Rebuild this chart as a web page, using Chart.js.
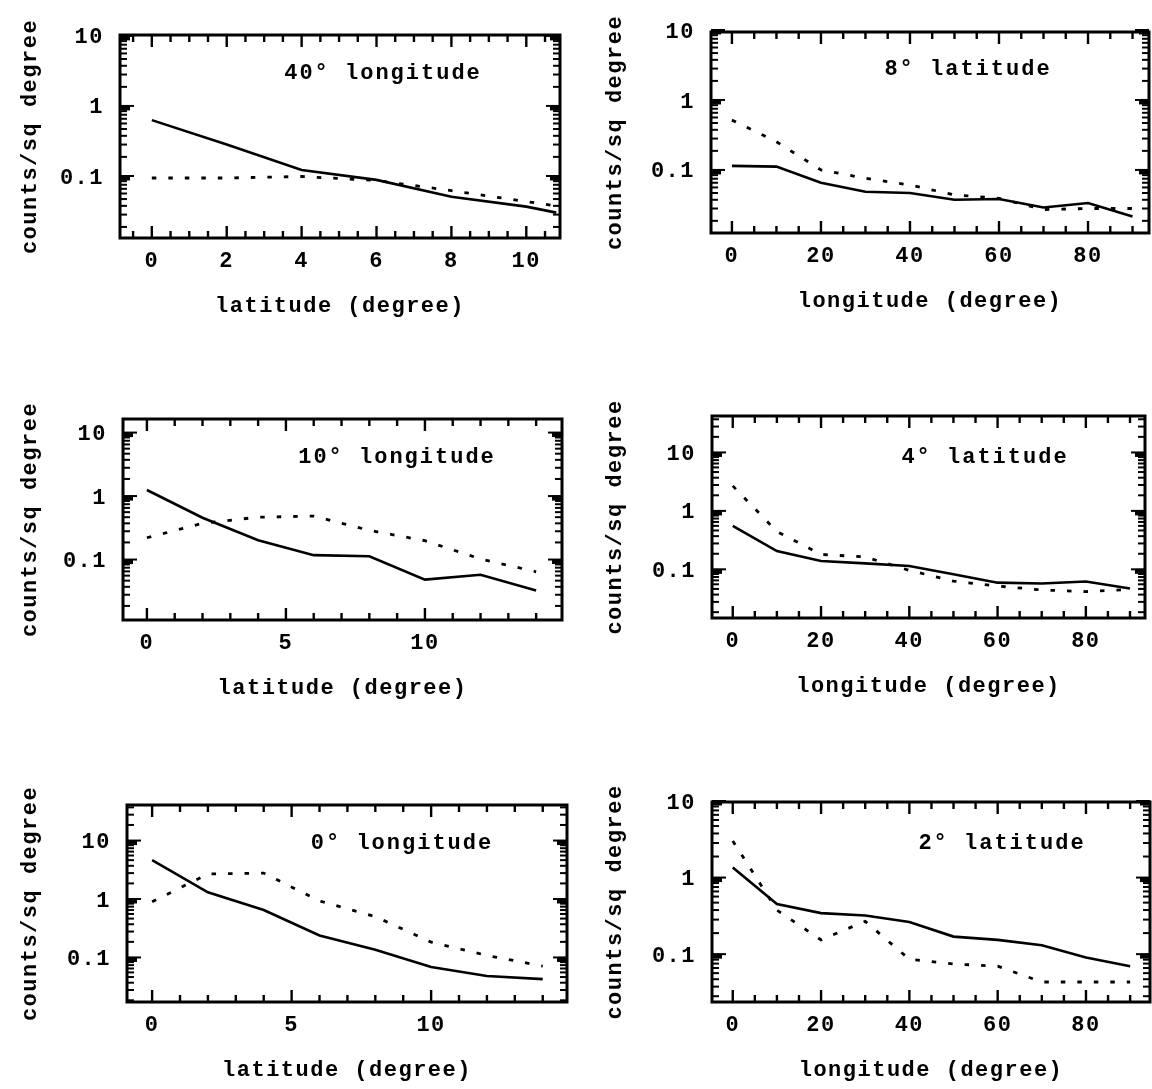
<!DOCTYPE html>
<html><head><meta charset="utf-8">
<script src="https://cdn.jsdelivr.net/npm/chart.js@4.4.0/dist/chart.umd.min.js"></script>
<style>
html,body{margin:0;padding:0;background:#fff;}
body{width:1152px;height:1089px;position:relative;overflow:hidden;}
canvas{position:absolute;display:block;}
</style></head><body>
<canvas id="c0"></canvas><canvas id="c1"></canvas><canvas id="c2"></canvas>
<canvas id="c3"></canvas><canvas id="c4"></canvas><canvas id="c5"></canvas>
<script>
// ---------------- DATA ----------------
const panelTitles = ["40\u00B0 longitude", "8\u00B0 latitude", "10\u00B0 longitude", "4\u00B0 latitude", "0\u00B0 longitude", "2\u00B0 latitude"];
const xTitleLat = "latitude (degree)";
const xTitleLon = "longitude (degree)";
const yTitle = "counts/sq degree";
const yTickValues = [0.1, 1, 10];
const xTicksLat10 = [0, 2, 4, 6, 8, 10];
const xTicksLat14 = [0, 5, 10];
const xTicksLon = [0, 20, 40, 60, 80];

// 40 deg longitude (x = latitude)
const lon40Lat    = [0, 2, 4, 6, 8, 10, 10.8];
const lon40Solid  = [0.67, 0.30, 0.13, 0.094, 0.054, 0.039, 0.032];
const lon40Dotted = [0.10, 0.10, 0.105, 0.092, 0.066, 0.046, 0.040];

// latitude cuts (x = longitude)
const lonX = [0, 10, 20, 30, 40, 50, 60, 70, 80, 90];
const lat8Solid  = [0.122, 0.119, 0.070, 0.052, 0.050, 0.040, 0.041, 0.031, 0.036, 0.023];
const lat8Dotted = [0.55, 0.27, 0.107, 0.081, 0.065, 0.047, 0.042, 0.029, 0.030, 0.030];
const lat4Solid  = [0.60, 0.222, 0.150, 0.137, 0.123, 0.089, 0.064, 0.062, 0.067, 0.051];
const lat4Dotted = [2.9, 0.48, 0.195, 0.176, 0.104, 0.068, 0.056, 0.048, 0.045, 0.049];
const lat2Solid  = [1.44, 0.48, 0.365, 0.34, 0.279, 0.18, 0.163, 0.139, 0.096, 0.074];
const lat2Dotted = [3.2, 0.40, 0.163, 0.285, 0.091, 0.079, 0.074, 0.046, 0.046, 0.046];

// longitude cuts (x = latitude)
const latX = [0, 2, 4, 6, 8, 10, 12, 14];
const lon10Solid  = [1.34, 0.49, 0.216, 0.126, 0.121, 0.052, 0.062, 0.035];
const lon10Dotted = [0.237, 0.40, 0.50, 0.52, 0.31, 0.213, 0.110, 0.069];
const lon0Solid   = [5.0, 1.41, 0.70, 0.257, 0.146, 0.074, 0.052, 0.046];
const lon0Dotted  = [0.97, 2.9, 3.0, 1.0, 0.54, 0.198, 0.117, 0.077];

// ---------------- LAYOUT / STYLE ----------------
const FSIZE = 22;
const FONT = {family: "'Liberation Mono', 'DejaVu Sans Mono', monospace", size: FSIZE, weight: 'bold', lineHeight: 1.2};
const LH = FSIZE * 1.2;

const panels = [
  {xs: lon40Lat, solid: lon40Solid, dotted: lon40Dotted, xTicks: xTicksLat10, xTitle: xTitleLat,
   xMin: -0.85, xMax: 10.9, yMin: 0.0139, yMax: 11.0, xMinor: 0.5, xMajor: 2,
   canvas: {x: 0, y: 0, w: 576, h: 340}, area: {l: 120, t: 35, r: 560, b: 238}, titleCx: 383, titleCy: 73},
  {xs: lonX, solid: lat8Solid, dotted: lat8Dotted, xTicks: xTicksLon, xTitle: xTitleLon,
   xMin: -4.7, xMax: 93.7, yMin: 0.0134, yMax: 10.0, xMinor: 5, xMajor: 20,
   canvas: {x: 576, y: 0, w: 576, h: 340}, area: {l: 711, t: 32, r: 1149, b: 233}, titleCx: 968, titleCy: 69},
  {xs: latX, solid: lon10Solid, dotted: lon10Dotted, xTicks: xTicksLat14, xTitle: xTitleLat,
   xMin: -0.86, xMax: 14.93, yMin: 0.0120, yMax: 17.6, xMinor: 1, xMajor: 5,
   canvas: {x: 0, y: 370, w: 576, h: 350}, area: {l: 123, t: 419, r: 562, b: 620}, titleCx: 397, titleCy: 457},
  {xs: lonX, solid: lat4Solid, dotted: lat4Dotted, xTicks: xTicksLon, xTitle: xTitleLon,
   xMin: -4.7, xMax: 93.4, yMin: 0.0159, yMax: 45.5, xMinor: 5, xMajor: 20,
   canvas: {x: 576, y: 370, w: 576, h: 350}, area: {l: 712, t: 416, r: 1145, b: 618}, titleCx: 985, titleCy: 457},
  {xs: latX, solid: lon0Solid, dotted: lon0Dotted, xTicks: xTicksLat14, xTitle: xTitleLat,
   xMin: -0.9, xMax: 14.87, yMin: 0.0187, yMax: 43.9, xMinor: 1, xMajor: 5,
   canvas: {x: 0, y: 740, w: 576, h: 349}, area: {l: 127, t: 805, r: 567, b: 1002}, titleCx: 402, titleCy: 843},
  {xs: lonX, solid: lat2Solid, dotted: lat2Dotted, xTicks: xTicksLon, xTitle: xTitleLon,
   xMin: -4.7, xMax: 94.5, yMin: 0.0252, yMax: 10.3, xMinor: 5, xMajor: 20,
   canvas: {x: 576, y: 740, w: 576, h: 349}, area: {l: 712, t: 802, r: 1150, b: 1002}, titleCx: 1002, titleCy: 843}
];

const framePlugin = {
  id: 'frame',
  beforeDraw(chart) { chart.ctx.letterSpacing = '1.5px'; },
  afterDatasetsDraw(chart, args, o) {
    const ctx = chart.ctx;
    const {left, right, top, bottom} = chart.chartArea;
    const x = chart.scales.x, y = chart.scales.y;
    ctx.save();
    ctx.strokeStyle = '#000';
    ctx.lineCap = 'butt';
    const seg = (x1, y1, x2, y2, lw) => { ctx.lineWidth = lw; ctx.beginPath(); ctx.moveTo(x1, y1); ctx.lineTo(x2, y2); ctx.stroke(); };
    // x ticks (inward, top and bottom)
    const start = Math.ceil(x.min / o.xMinor - 1e-9) * o.xMinor;
    for (let v = start; v <= x.max + 1e-9; v += o.xMinor) {
      const px = x.getPixelForValue(v);
      const r = v / o.xMajor;
      const major = Math.abs(r - Math.round(r)) < 1e-6;
      const len = major ? 12 : 7;
      seg(px, bottom, px, bottom - len, 2.4);
      seg(px, top, px, top + len, 2.4);
    }
    // y ticks (log, inward, left and right)
    const d0 = Math.floor(Math.log10(y.min)), d1 = Math.ceil(Math.log10(y.max));
    for (let d = d0; d <= d1; d++) {
      for (let k = 1; k <= 9; k++) {
        const v = k * Math.pow(10, d);
        if (v < y.min || v > y.max) continue;
        const py = y.getPixelForValue(v);
        if (k === 1) {
          seg(left, py, left + 10, py, 5);
          seg(right, py, right - 10, py, 5);
          seg(left, py - 2, left + 14, py - 2, 2);
          seg(right, py - 2, right - 14, py - 2, 2);
        } else {
          seg(left, py, left + 7, py, 2);
          seg(right, py, right - 7, py, 2);
        }
      }
    }
    // frame
    ctx.lineWidth = 3;
    ctx.strokeRect(left, top, right - left, bottom - top);
    // panel label
    ctx.fillStyle = '#000';
    ctx.font = 'bold ' + FSIZE + 'px ' + FONT.family;
    ctx.letterSpacing = '2px';
    ctx.textAlign = 'center';
    ctx.textBaseline = 'middle';
    ctx.fillText(o.text, o.cx, o.cy);
    ctx.restore();
  }
};

panels.forEach((p, i) => {
  const cv = document.getElementById('c' + i);
  const C = p.canvas, A = p.area;
  cv.width = C.w; cv.height = C.h;
  cv.style.left = C.x + 'px'; cv.style.top = C.y + 'px';
  cv.style.width = C.w + 'px'; cv.style.height = C.h + 'px';
  const yAxisW = A.l - C.x;
  const xAxisH = C.y + C.h - A.b;
  const yTitleCenter = (C.x === 0 ? 30 : 39);
  new Chart(cv, {
    type: 'line',
    data: {
      datasets: [
        {data: p.xs.map((x, j) => ({x: x, y: p.solid[j]})), borderColor: '#000', borderWidth: 2.6, pointRadius: 0, tension: 0, fill: false},
        {data: p.xs.map((x, j) => ({x: x, y: p.dotted[j]})), borderColor: '#000', borderWidth: 2.8, borderDash: [4.5, 12], pointRadius: 0, tension: 0, fill: false}
      ]
    },
    options: {
      responsive: false, animation: false, devicePixelRatio: 1,
      layout: {autoPadding: false, padding: {left: 0, bottom: 0, top: A.t - C.y, right: C.x + C.w - A.r}},
      plugins: {
        legend: {display: false}, tooltip: {enabled: false},
        frame: {xMinor: p.xMinor, xMajor: p.xMajor, text: panelTitles[i], cx: p.titleCx - C.x, cy: p.titleCy - C.y}
      },
      scales: {
        x: {
          type: 'linear', position: 'bottom', min: p.xMin, max: p.xMax,
          grid: {display: false, drawTicks: false}, border: {display: false},
          ticks: {font: FONT, color: '#000', padding: 10, maxRotation: 0, autoSkip: false, callback: v => String(v)},
          afterBuildTicks: s => { s.ticks = p.xTicks.map(v => ({value: v})); },
          afterFit: s => { s.height = xAxisH; },
          title: {display: true, text: p.xTitle, font: FONT, color: '#000', padding: {top: 0, bottom: xAxisH - 68 - LH / 2}}
        },
        y: {
          type: 'logarithmic', position: 'left', min: p.yMin, max: p.yMax,
          grid: {display: false, drawTicks: false}, border: {display: false},
          ticks: {font: FONT, color: '#000', padding: 16, autoSkip: false, callback: v => String(v)},
          afterBuildTicks: s => { s.ticks = yTickValues.map(v => ({value: v})); },
          afterFit: s => { s.width = yAxisW; },
          title: {display: true, text: yTitle, font: FONT, color: '#000', padding: {top: yTitleCenter - LH / 2, bottom: 0}}
        }
      }
    },
    plugins: [framePlugin]
  });
});
</script>
</body></html>
